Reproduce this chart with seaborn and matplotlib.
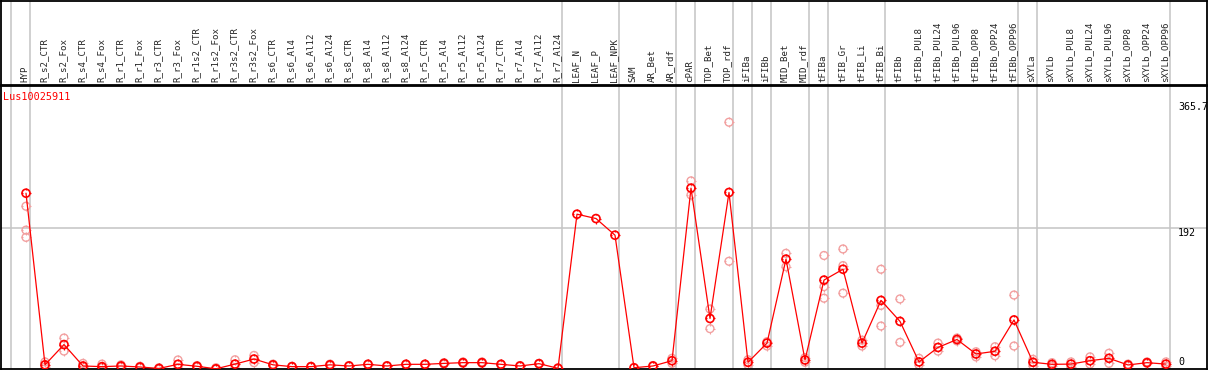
import matplotlib
matplotlib.use("Agg")
import matplotlib.pyplot as plt
from matplotlib.path import Path
import seaborn as sns
import pandas as pd
import numpy as np

# kategori etiketleri
labels = ["HYP",
          "R_s2_CTR", "R_s2_Fox", "R_s4_CTR", "R_s4_Fox", "R_r1_CTR", "R_r1_Fox",
          "R_r3_CTR", "R_r3_Fox", "R_r1s2_CTR", "R_r1s2_Fox", "R_r3s2_CTR", "R_r3s2_Fox",
          "R_s6_CTR", "R_s6_Al4", "R_s6_Al12", "R_s6_Al24", "R_s8_CTR", "R_s8_Al4",
          "R_s8_Al12", "R_s8_Al24", "R_r5_CTR", "R_r5_Al4", "R_r5_Al12", "R_r5_Al24",
          "R_r7_CTR", "R_r7_Al4", "R_r7_Al12", "R_r7_Al24",
          "LEAF_N", "LEAF_P", "LEAF_NPK",
          "SAM", "AR_Bet", "AR_rdf",
          "cPAR", "TOP_Bet", "TOP_rdf", "iFIBa", "iFIBb", "MID_Bet", "MID_rdf",
          "tFIBa", "tFIB_Gr", "tFIB_Li", "tFIB_Bi",
          "tFIBb", "tFIBb_PUL8", "tFIBb_PUL24", "tFIBb_PUL96", "tFIBb_OPP8",
          "tFIBb_OPP24", "tFIBb_OPP96",
          "sXYLa",
          "sXYLb", "sXYLb_PUL8", "sXYLb_PUL24", "sXYLb_PUL96", "sXYLb_OPP8",
          "sXYLb_OPP24", "sXYLb_OPP96"]

# grup büyüklükleri (dikey ayırıcı çizgiler için)
group_sizes = [1, 28, 3, 3, 1, 2, 1, 1, 2, 1, 3, 7, 1, 7]

# ortalama değerler
means = [240,
         3, 31, 1.4, 0.5, 1.4, 0, -2, 3.7, 1, -2.5, 4, 11,
         3, 0.5, 0.5, 3, 1.4, 3.7, 1.4, 3.7, 3.7, 5, 6, 6,
         3.7, 1.4, 4.6, -1.8,
         211, 205, 182,
         -1, 1.4, 8.7,
         247, 67, 241, 6.5, 33, 149, 9.7,
         120, 135, 33, 92,
         63, 7, 27, 38, 18, 21.7, 65,
         6.5,
         3.7, 4, 8.7, 12, 2.8, 6, 4]

# tekrar (replikat) değerleri
replicates = [[222, 189, 179],
              [7, 0], [40, 22], [5, 0], [4, -1], [3, 0], [1, -1], [-1, -3],
              [9.7, -1], [2, 0], [-1, -3], [10, -1], [16, 6],
              [4, 2], [1, 0], [1, 0], [4, 2], [2, 1], [4, 3], [2, 1], [4, 3],
              [4, 3], [6, 4], [7, 5], [7, 5], [4, 3], [2, 1], [5, 4], [-1, -2],
              [], [], [],
              [], [2, 1], [12, 5],
              [257, 237.5], [80, 53], [338, 146], [10, 3], [35, 29],
              [157, 138.5], [13, 6.5],
              [154, 111, 95], [163, 140, 102], [37, 29], [135, 85, 56.6],
              [94, 34], [12, 3], [33, 22], [40, 36], [21, 14], [28, 15.6], [99.4, 29],
              [10.6, 2],
              [6, 1.5], [7, 0.5], [14, 4], [19, 5], [4, 1.5], [7, 5], [7, 1]]

y_labels = ["365.7", "192", "0"]
gene = "Lus10025911"

sns.set_style("white")
plt.rcParams['font.family'] = ['DejaVu Sans Mono']

W, H = 1209, 370
fig = plt.figure(figsize=(W / 100, H / 100), dpi=100)

# piksel -> figür oranı
ax = fig.add_axes([1 / W, 1 / H, 1206 / W, 283 / H])
ax_h = fig.add_axes([1 / W, 285 / H, 1206 / W, 84 / H], sharex=ax)

x = np.arange(len(labels))
df = pd.DataFrame({"x": x, "mean": means})
rep_df = pd.DataFrame([(i, v) for i, r in enumerate(replicates) for v in r],
                      columns=["x", "val"])

gray = "#c4c4c4"
red = "#ff0000"
pink = "#f2a0a0"

# dairenin dışındaki küçük çentikler
ticks = Path([(0, 0.62), (0, 1), (0, -0.62), (0, -1),
              (0.62, 0), (1, 0), (-0.62, 0), (-1, 0)],
             [Path.MOVETO, Path.LINETO] * 4)

# grup ayırıcıları
bounds = np.concatenate([[-1], np.cumsum(group_sizes) - 1]) + 0.22
for b in bounds:
    ax.axvline(b, color=gray, lw=1.1, zorder=0)
    ax_h.axvline(b, color=gray, lw=1.1, zorder=0)
ax.axhline(192, color=gray, lw=1.1, zorder=0)

# replikatlar
sns.scatterplot(data=rep_df, x="x", y="val", ax=ax, marker=ticks, s=50,
                facecolor="none", edgecolor=pink, linewidth=0.8, zorder=2, legend=False)
sns.scatterplot(data=rep_df, x="x", y="val", ax=ax, marker="o", s=32,
                facecolor="none", edgecolor=pink, linewidth=1.0, zorder=2, legend=False)

# ortalama çizgisi
sns.lineplot(data=df, x="x", y="mean", ax=ax, color=red, lw=0.9, zorder=3)
sns.scatterplot(data=df, x="x", y="mean", ax=ax, marker=ticks, s=52,
                facecolor="none", edgecolor=red, linewidth=0.9, zorder=4, legend=False)
sns.scatterplot(data=df, x="x", y="mean", ax=ax, marker="o", s=33,
                facecolor="none", edgecolor=red, linewidth=1.2, zorder=4, legend=False)

ax.set_xlim((1 - 26) / 19, (1207 - 26) / 19)
ax.set_ylim(-2.76, 388)
ax.set_xlabel("")
ax.set_ylabel("")
ax.set_xticks([])
ax.set_yticks([])

# sağ taraftaki değer etiketleri
xr = (1178 - 26) / 19
for lab in y_labels:
    v = float(lab)
    ax.text(xr, v, lab, fontsize=7.2, ha="left",
            va="bottom" if v == 0 else "top", color="black")

ax.annotate(gene, xy=(0, 1), xycoords="axes fraction", xytext=(2, -11),
            textcoords="offset pixels", fontsize=7.3, color=red, va="center")

# başlık bandı
ax_h.set_ylim(0, 84)
ax_h.set_yticks([])
ax_h.tick_params(axis="x", bottom=False, labelbottom=False)
for i, lab in enumerate(labels):
    ax_h.text(i - 0.07, 3, lab, rotation=90, fontsize=6.6, ha="center", va="bottom")

for a in (ax, ax_h):
    for s in a.spines.values():
        s.set_color("black")
        s.set_linewidth(1.3)

fig.savefig("out.png", dpi=100)
